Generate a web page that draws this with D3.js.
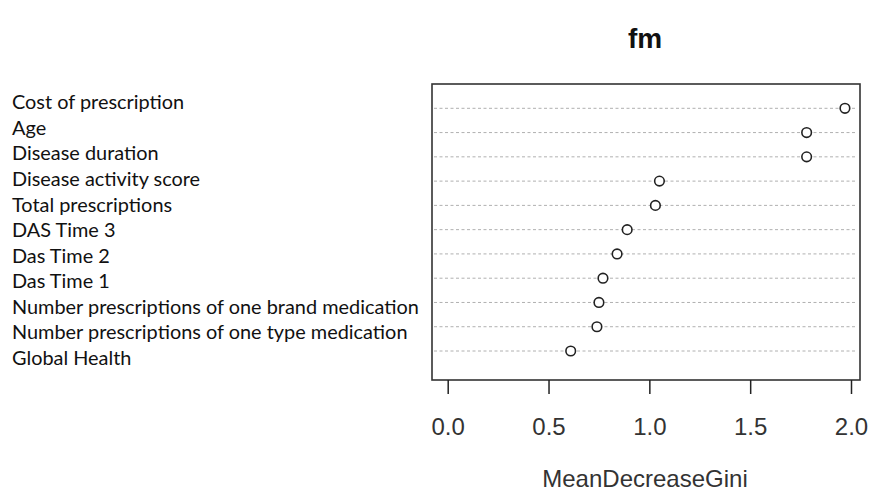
<!DOCTYPE html>
<html>
<head>
<meta charset="utf-8">
<script src="https://cdn.jsdelivr.net/npm/d3@7"></script>
<style>
  html, body { margin: 0; padding: 0; background: #fff; }
  svg { display: block; }
</style>
</head>
<body>
<svg id="chart" width="870" height="493"></svg>
<script>
// ---- data ----
const categories = [
  "Cost of prescription",
  "Age",
  "Disease duration",
  "Disease activity score",
  "Total prescriptions",
  "DAS Time 3",
  "Das Time 2",
  "Das Time 1",
  "Number prescriptions of one brand medication",
  "Number prescriptions of one type medication",
  "Global Health"
];
const values = [1.97, 1.78, 1.78, 1.05, 1.03, 0.89, 0.84, 0.77, 0.75, 0.74, 0.61];
const xTicks = [0.0, 0.5, 1.0, 1.5, 2.0];
const title = "fm";
const xTitle = "MeanDecreaseGini";

// ---- layout ----
const svg = d3.select("#chart");
const box = { left: 432, top: 84, right: 860, bottom: 380 };

const x = d3.scaleLinear().domain([0, 2]).range([447.7, 851]);
const y = d3.scalePoint().domain(categories).range([108.3, 351]);
const yLabel = d3.scalePoint().domain(categories).range([109.3, 365]);

// dotted guide lines
svg.append("g").selectAll("line")
  .data(categories)
  .join("line")
  .attr("x1", box.left + 2)
  .attr("x2", box.right - 3)
  .attr("y1", d => y(d))
  .attr("y2", d => y(d))
  .attr("stroke", "#b0b0b0")
  .attr("stroke-width", 1)
  .attr("stroke-dasharray", "3,2.5");

// box
svg.append("rect")
  .attr("x", box.left).attr("y", box.top)
  .attr("width", box.right - box.left)
  .attr("height", box.bottom - box.top)
  .attr("fill", "none")
  .attr("stroke", "#333")
  .attr("stroke-width", 1.6);

// points
svg.append("g").selectAll("circle")
  .data(categories.map((c, i) => ({ c, v: values[i] })))
  .join("circle")
  .attr("cx", d => x(d.v))
  .attr("cy", d => y(d.c))
  .attr("r", 4.8)
  .attr("fill", "#fff")
  .attr("stroke", "#222")
  .attr("stroke-width", 1.6);

// x axis
const axis = svg.append("g")
  .attr("transform", `translate(0,${box.bottom})`)
  .call(d3.axisBottom(x).tickValues(xTicks).tickSize(14).tickFormat(d3.format(".1f")));
axis.select(".domain").remove();
axis.selectAll(".tick line").attr("stroke", "#222").attr("stroke-width", 1.5);
axis.selectAll(".tick text")
  .attr("dy", null)
  .attr("y", 55)
  .attr("fill", "#333")
  .style("font-family", "'Liberation Sans', Arial, sans-serif")
  .style("font-size", "24px");

// labels on the left
const labels = svg.append("g").selectAll("text")
  .data(categories)
  .join("text")
  .attr("x", 12)
  .attr("y", d => yLabel(d))
  .attr("fill", "#111")
  .style("font-family", "Lato, 'Noto Sans', sans-serif")
  .style("font-size", "20px")
  .text(d => d);
// fit font size so the longest label matches the reference width
let maxW = 0;
labels.each(function() { maxW = Math.max(maxW, this.getComputedTextLength()); });
const fs = 20 * 407 / maxW;
labels.style("font-size", fs + "px");

// title
svg.append("text")
  .attr("x", 645).attr("y", 48)
  .attr("text-anchor", "middle")
  .attr("fill", "#111")
  .style("font-family", "'Liberation Sans', Arial, sans-serif")
  .style("font-size", "28px")
  .style("font-weight", "bold")
  .text(title);

// x title
svg.append("text")
  .attr("x", 645).attr("y", 487)
  .attr("text-anchor", "middle")
  .attr("fill", "#333")
  .style("font-family", "'Liberation Sans', Arial, sans-serif")
  .style("font-size", "24px")
  .text(xTitle);
</script>
</body>
</html>
